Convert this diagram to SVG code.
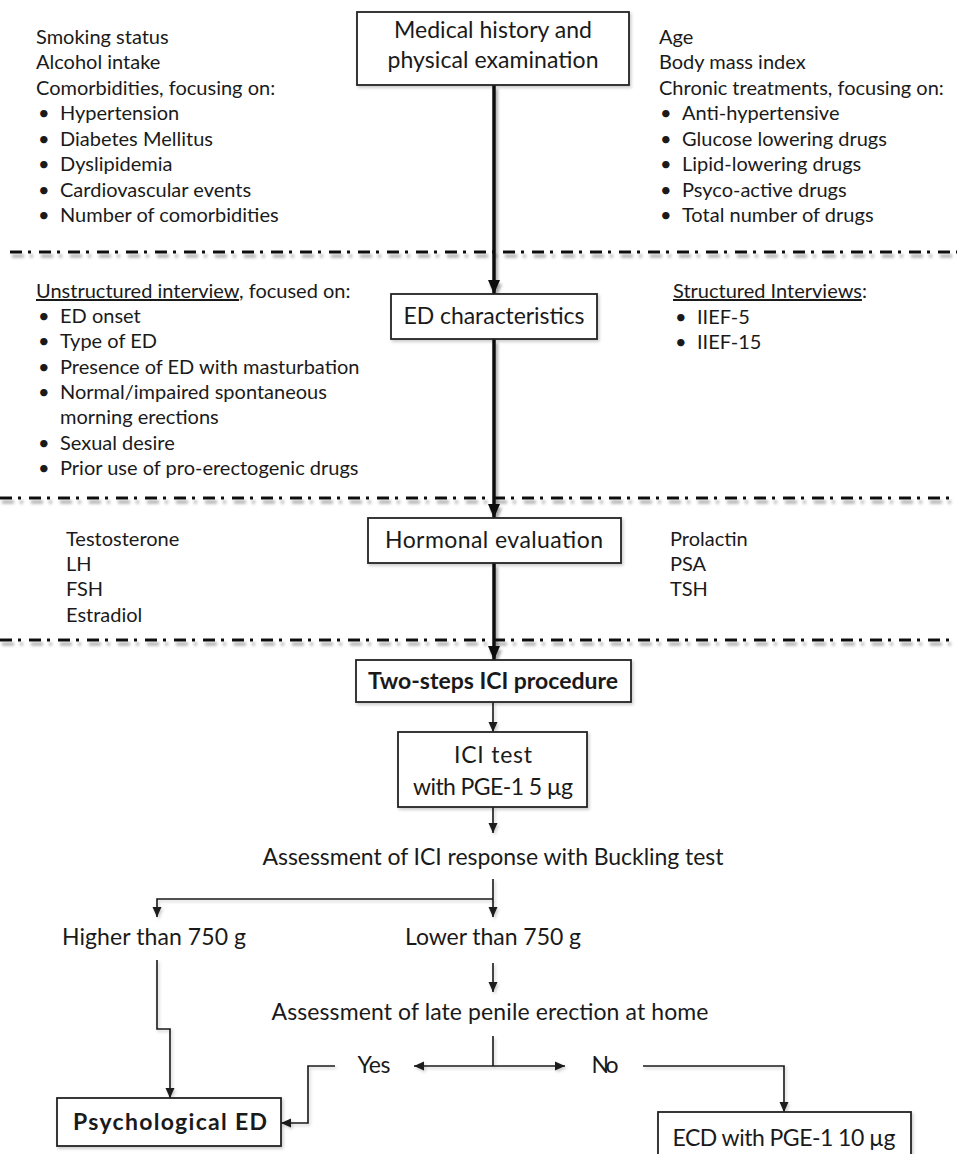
<svg xmlns="http://www.w3.org/2000/svg" width="957" height="1154" viewBox="0 0 957 1154">
<style>
text{font-family:Lato,"Liberation Sans",sans-serif;fill:#1a1a1a}
.t{font-size:20px}
.b{font-size:23px}
.c{text-anchor:middle}
.bold{font-weight:bold}
.box{fill:#fff;stroke:#222;stroke-width:1.8}
.thick{fill:none;stroke:#111;stroke-width:3.5}
.thin{fill:none;stroke:#1a1a1a;stroke-width:1.6}
.sep{fill:none;stroke:#111;stroke-width:3;stroke-dasharray:12 6 3 8}
</style>
<defs>
<filter id="sh" filterUnits="userSpaceOnUse" x="0" y="0" width="957" height="1154">
<feDropShadow dx="2" dy="4" stdDeviation="1.6" flood-color="#000" flood-opacity="0.35"/>
</filter>
<filter id="shb" filterUnits="userSpaceOnUse" x="0" y="0" width="957" height="1154">
<feDropShadow dx="1.5" dy="2" stdDeviation="1.5" flood-color="#000" flood-opacity="0.2"/>
</filter>
<marker id="ak" markerUnits="userSpaceOnUse" markerWidth="14" markerHeight="14" refX="14" refY="7" orient="auto"><path d="M0,1 L14,7 L0,13 z" fill="#111"/></marker>
<marker id="an" markerUnits="userSpaceOnUse" markerWidth="10" markerHeight="10" refX="10" refY="5" orient="auto-start-reverse"><path d="M0,0.5 L10,5 L0,9.5 z" fill="#1a1a1a"/></marker>
</defs>
<rect width="957" height="1154" fill="#fff"/>

<g id="separators" filter="url(#sh)">
<path class="sep" d="M10,252 H957"/>
<path class="sep" d="M0,498 H957"/>
<path class="sep" d="M0,640 H957"/>
</g>

<g id="connectors">
<g filter="url(#sh)">
<path class="thick" d="M494,85 V294" marker-end="url(#ak)"/>
<path class="thick" d="M494,339 V518" marker-end="url(#ak)"/>
<path class="thick" d="M494,563 V660" marker-end="url(#ak)"/>
</g>
<g filter="url(#shb)">
<path class="thin" d="M493,702 V732" marker-end="url(#an)"/>
<path class="thin" d="M493,807 V833" marker-end="url(#an)"/>
<path class="thin" d="M493,879 V917" marker-end="url(#an)"/>
<path class="thin" d="M493,899 H157 V917" marker-end="url(#an)"/>
<path class="thin" d="M493,963 V992" marker-end="url(#an)"/>
<path class="thin" d="M493,1036 V1066"/>
<path class="thin" d="M414,1066 H565" marker-start="url(#an)" marker-end="url(#an)"/>
<path class="thin" d="M335,1066 H308 V1123 H281" marker-end="url(#an)"/>
<path class="thin" d="M157,960 V1029 H170 V1098" marker-end="url(#an)"/>
<path class="thin" d="M643,1066 H784 V1112" marker-end="url(#an)"/>
</g>
</g>

<g id="medical-history">
<rect class="box" x="357" y="12" width="272" height="73" filter="url(#shb)"/>
<text class="b c" x="493" y="38" textLength="198">Medical history and</text>
<text class="b c" x="493" y="68" textLength="211">physical examination</text>
</g>

<g id="history-left">
<text class="t" x="36" y="44">Smoking status</text>
<text class="t" x="36" y="69">Alcohol intake</text>
<text class="t" x="36" y="95">Comorbidities, focusing on:</text>
<text class="t" x="38" y="120">•</text><text class="t" x="60" y="120">Hypertension</text>
<text class="t" x="38" y="146">•</text><text class="t" x="60" y="146">Diabetes Mellitus</text>
<text class="t" x="38" y="171">•</text><text class="t" x="60" y="171">Dyslipidemia</text>
<text class="t" x="38" y="197">•</text><text class="t" x="60" y="197">Cardiovascular events</text>
<text class="t" x="38" y="222">•</text><text class="t" x="60" y="222">Number of comorbidities</text>
</g>

<g id="history-right">
<text class="t" x="659" y="44">Age</text>
<text class="t" x="659" y="69">Body mass index</text>
<text class="t" x="659" y="95">Chronic treatments, focusing on:</text>
<text class="t" x="660" y="120">•</text><text class="t" x="682" y="120">Anti-hypertensive</text>
<text class="t" x="660" y="146">•</text><text class="t" x="682" y="146">Glucose lowering drugs</text>
<text class="t" x="660" y="171">•</text><text class="t" x="682" y="171">Lipid-lowering drugs</text>
<text class="t" x="660" y="197">•</text><text class="t" x="682" y="197">Psyco-active drugs</text>
<text class="t" x="660" y="222">•</text><text class="t" x="682" y="222">Total number of drugs</text>
</g>

<g id="ed-characteristics">
<rect class="box" x="391" y="294" width="206" height="45" filter="url(#shb)"/>
<text class="b c" x="494" y="324" textLength="181">ED characteristics</text>
</g>

<g id="unstructured">
<text class="t" x="36" y="298"><tspan text-decoration="underline">Unstructured interview</tspan>, focused on:</text>
<text class="t" x="38" y="323">•</text><text class="t" x="60" y="323">ED onset</text>
<text class="t" x="38" y="348">•</text><text class="t" x="60" y="348">Type of ED</text>
<text class="t" x="38" y="374">•</text><text class="t" x="60" y="374">Presence of ED with masturbation</text>
<text class="t" x="38" y="399">•</text><text class="t" x="60" y="399">Normal/impaired spontaneous</text>
<text class="t" x="60" y="424">morning erections</text>
<text class="t" x="38" y="450">•</text><text class="t" x="60" y="450">Sexual desire</text>
<text class="t" x="38" y="475">•</text><text class="t" x="60" y="475">Prior use of pro-erectogenic drugs</text>
</g>

<g id="structured">
<text class="t" x="673" y="298"><tspan text-decoration="underline">Structured Interviews</tspan>:</text>
<text class="t" x="675" y="324">•</text><text class="t" x="697" y="324">IIEF-5</text>
<text class="t" x="675" y="349">•</text><text class="t" x="697" y="349">IIEF-15</text>
</g>

<g id="hormonal-evaluation">
<rect class="box" x="368" y="518" width="253" height="45" filter="url(#shb)"/>
<text class="b c" x="494" y="548" textLength="218">Hormonal evaluation</text>
</g>

<g id="hormones-left">
<text class="t" x="66" y="546">Testosterone</text>
<text class="t" x="66" y="571">LH</text>
<text class="t" x="66" y="596">FSH</text>
<text class="t" x="66" y="622">Estradiol</text>
</g>

<g id="hormones-right">
<text class="t" x="670" y="546">Prolactin</text>
<text class="t" x="670" y="571">PSA</text>
<text class="t" x="670" y="596">TSH</text>
</g>

<g id="two-steps">
<rect class="box" x="356" y="660" width="275" height="42" filter="url(#shb)"/>
<text class="b c bold" x="493" y="689" textLength="250">Two-steps ICI procedure</text>
</g>

<g id="ici-test">
<rect class="box" x="398" y="732" width="189" height="75" filter="url(#shb)"/>
<text class="b c" x="493" y="763" textLength="78">ICI test</text>
<text class="b c" x="493" y="795" textLength="160">with PGE-1 5 µg</text>
</g>

<g id="assessment-ici">
<text class="b c" x="493" y="865" textLength="461">Assessment of ICI response with Buckling test</text>
</g>

<g id="higher">
<text class="b c" x="154" y="945" textLength="184">Higher than 750 g</text>
</g>

<g id="lower">
<text class="b c" x="493" y="945" textLength="176">Lower than 750 g</text>
</g>

<g id="assessment-late">
<text class="b c" x="490" y="1020" textLength="437">Assessment of late penile erection at home</text>
</g>

<g id="yes">
<text class="b c" x="374" y="1073" textLength="33">Yes</text>
</g>

<g id="no">
<text class="b c" x="605" y="1073" textLength="27">No</text>
</g>

<g id="psychological-ed">
<rect class="box" x="57" y="1098" width="224" height="48" filter="url(#shb)"/>
<text class="b c bold" x="170" y="1130" textLength="194">Psychological ED</text>
</g>

<g id="ecd">
<rect class="box" x="658" y="1112" width="253" height="60" filter="url(#shb)"/>
<text class="b c" x="784" y="1146" textLength="223">ECD with PGE-1 10 µg</text>
</g>
</svg>
